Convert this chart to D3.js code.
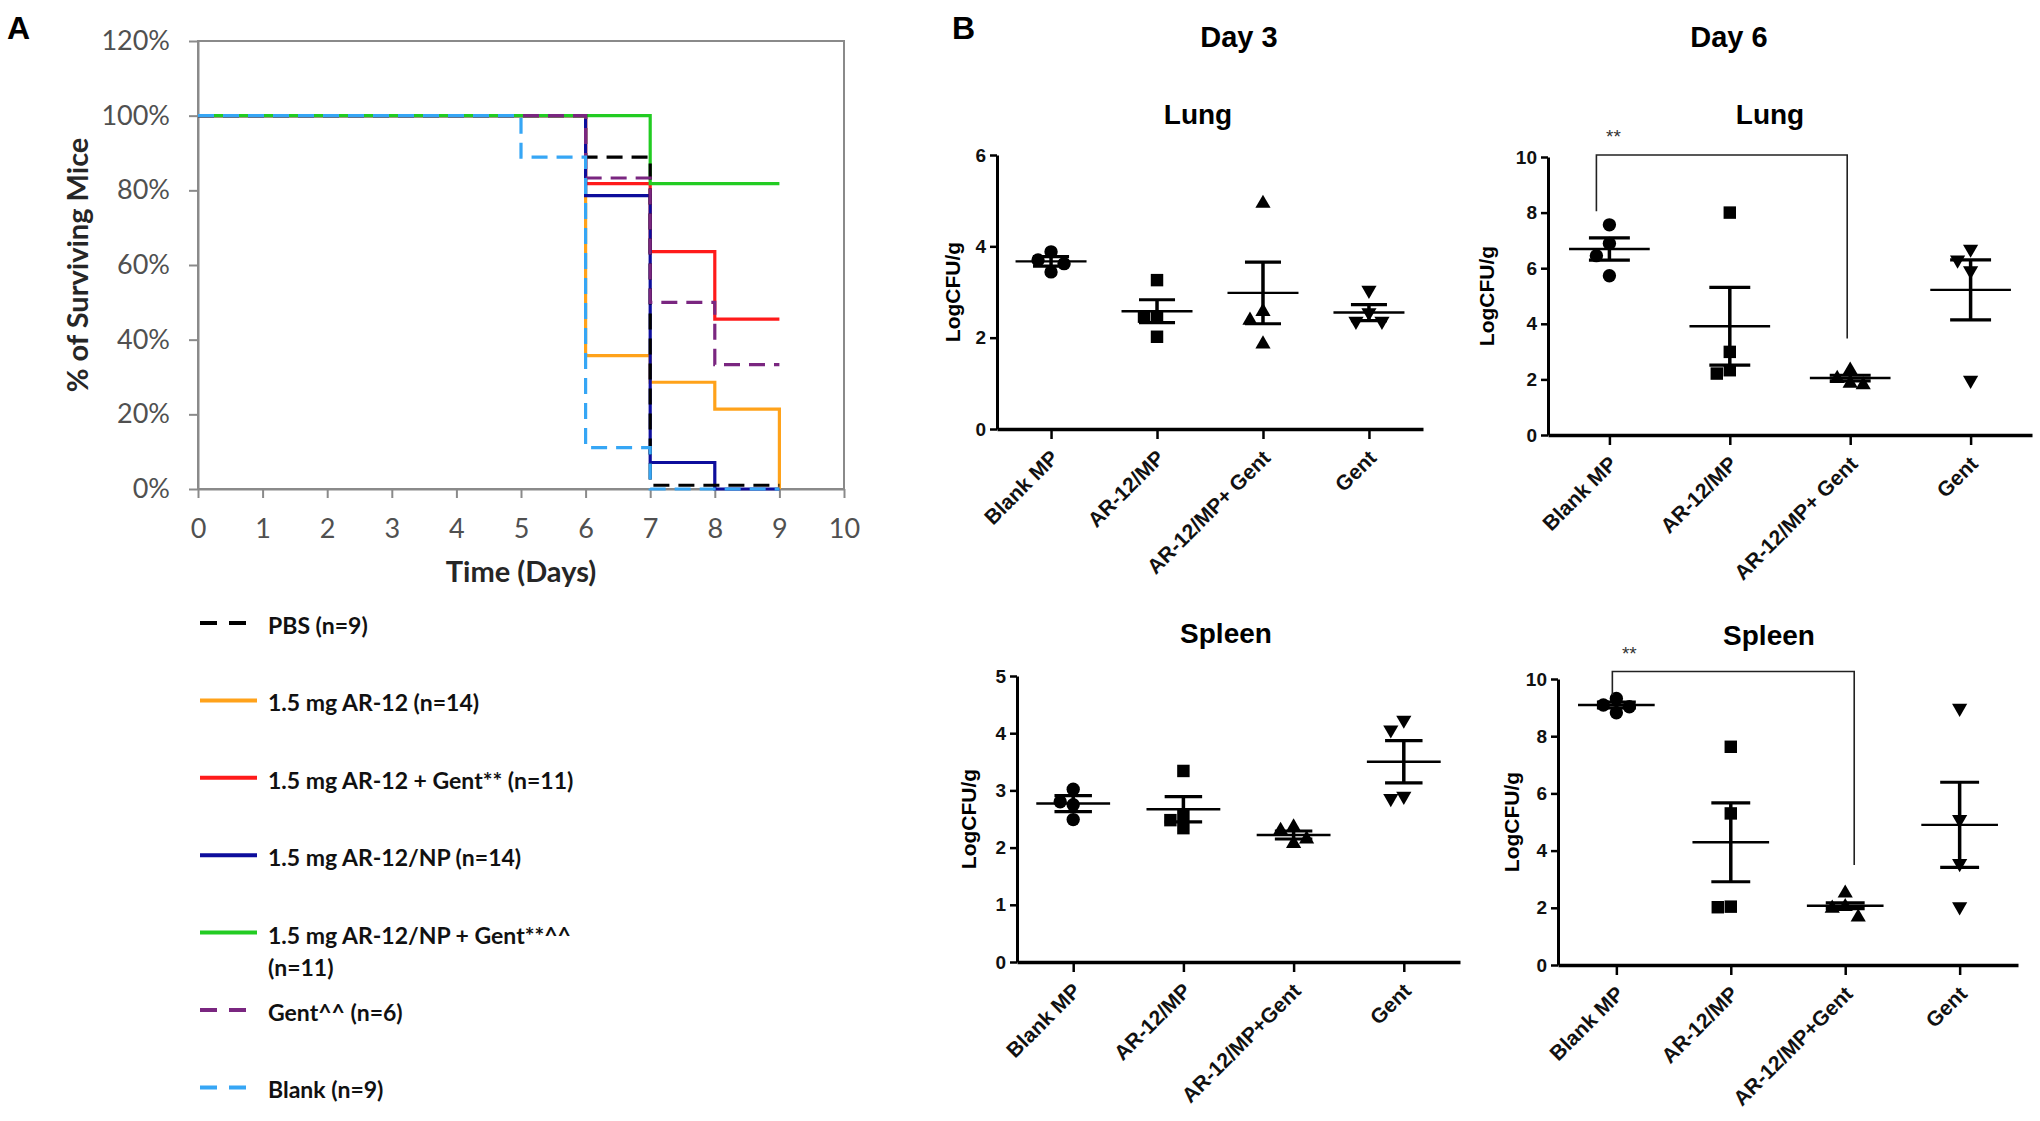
<!DOCTYPE html>
<html>
<head>
<meta charset="utf-8">
<script src="https://cdn.jsdelivr.net/npm/d3@7"></script>
<style>
  body { margin: 0; background: #fff; }
  svg { display: block; }
</style>
</head>
<body>
<svg id="chart" width="2040" height="1121"></svg>
<script>
// ---------- panel A : survival curves ----------
const dayTicks = [0, 1, 2, 3, 4, 5, 6, 7, 8, 9, 10];
const pctTicks = [0, 20, 40, 60, 80, 100, 120];

const pbsDays = [0, 6, 7, 9];
const pbsSurv = [100, 88.9, 1, 1];
const ar12Days = [0, 6, 7, 8, 9];
const ar12Surv = [100, 35.7, 28.6, 21.4, 0];
const ar12GentDays = [0, 6, 7, 8, 9];
const ar12GentSurv = [100, 81.8, 63.6, 45.5, 45.5];
const npDays = [0, 6, 7, 8, 9];
const npSurv = [100, 78.6, 7.1, 0, 0];
const npGentDays = [0, 7, 9];
const npGentSurv = [100, 81.8, 81.8];
const gentDays = [0, 6, 7, 8, 9];
const gentSurv = [100, 83.3, 50, 33.3, 33.3];
const blankDays = [0, 5, 6, 7, 9];
const blankSurv = [100, 88.9, 11.1, 0, 0];

const groupLabels = [
  ["PBS (n=9)"],
  ["1.5 mg AR-12 (n=14)"],
  ["1.5 mg AR-12 + Gent** (n=11)"],
  ["1.5 mg AR-12/NP (n=14)"],
  ["1.5 mg AR-12/NP + Gent**^^", "(n=11)"],
  ["Gent^^ (n=6)"],
  ["Blank (n=9)"]
];

// ---------- panel B : bacterial burden ----------
const lungCats = ["Blank MP", "AR-12/MP", "AR-12/MP+ Gent", "Gent"];
const spleenCats = ["Blank MP", "AR-12/MP", "AR-12/MP+Gent", "Gent"];

const lungDay3Ticks = [0, 2, 4, 6];
const lungDay3Points = [[3.88, 3.7, 3.62, 3.44], [3.26, 2.46, 2.46, 2.02], [4.94, 2.57, 2.38, 1.86], [3.04, 2.55, 2.36, 2.36]];
const lungDay3Mean = [3.67, 2.58, 2.98, 2.55];
const lungDay3Sem = [0.105, 0.25, 0.675, 0.175];

const lungDay6Ticks = [0, 2, 4, 6, 8, 10];
const lungDay6Points = [[7.56, 6.89, 6.45, 5.73], [8.0, 2.99, 2.33, 2.21], [2.33, 2.03, 1.86, 1.8], [6.69, 6.3, 5.91, 1.97]];
const lungDay6Mean = [6.69, 3.91, 2.05, 5.22];
const lungDay6Sem = [0.4, 1.4, 0.1, 1.08];
const lungDay6Bracket = [10.07, 8.05, 3.47];   // top, left foot, right foot

const spleenDay3Ticks = [0, 1, 2, 3, 4, 5];
const spleenDay3Points = [[3.02, 2.8, 2.75, 2.49], [3.34, 2.57, 2.48, 2.34], [2.36, 2.3, 2.15, 2.07], [4.23, 4.06, 2.9, 2.86]];
const spleenDay3Mean = [2.77, 2.67, 2.22, 3.5];
const spleenDay3Sem = [0.14, 0.22, 0.07, 0.37];

const spleenDay6Ticks = [0, 2, 4, 6, 8, 10];
const spleenDay6Points = [[9.32, 9.09, 9.03, 8.82], [7.63, 5.3, 2.04, 2.02], [2.51, 2.04, 1.98, 1.67], [8.98, 5.09, 3.55, 2.04]];
const spleenDay6Mean = [9.09, 4.29, 2.07, 4.9];
const spleenDay6Sem = [0.1, 1.38, 0.1, 1.49];
const spleenDay6Bracket = [10.26, 9.44, 3.5];

const svg = d3.select("#chart");
const sansA = "Lato, 'Open Sans', sans-serif";
const sansB = "'Liberation Sans', Arial, sans-serif";

// panel letters
svg.append("text").attr("x", 7).attr("y", 39).text("A")
  .attr("font-family", sansB).attr("font-weight", "bold").attr("font-size", 32);
svg.append("text").attr("x", 952).attr("y", 39).text("B")
  .attr("font-family", sansB).attr("font-weight", "bold").attr("font-size", 32);

// ===== panel A =====
const A = { left: 198, right: 844, top: 41, bottom: 489 };
const xA = d3.scaleLinear().domain([0, 10]).range([A.left, A.right]);
const yA = d3.scaleLinear().domain([0, 120]).range([A.bottom, A.top]);
const gA = svg.append("g");
const frame = "#8a8a8a";

gA.append("rect")
  .attr("x", A.left).attr("y", A.top)
  .attr("width", A.right - A.left).attr("height", A.bottom - A.top)
  .attr("fill", "none").attr("stroke", frame).attr("stroke-width", 2);

let styleA = g => {
  g.select(".domain").attr("stroke", frame).attr("stroke-width", 2);
  g.selectAll(".tick line").attr("stroke", frame).attr("stroke-width", 2);
  g.selectAll(".tick text").attr("font-family", sansA).attr("font-size", 27).attr("fill", "#505050");
};

gA.append("g").attr("transform", `translate(0,${A.bottom})`)
  .call(d3.axisBottom(xA).tickValues(dayTicks).tickSize(9).tickPadding(21).tickSizeOuter(0))
  .call(styleA);
gA.append("g").attr("transform", `translate(${A.left},0)`)
  .call(d3.axisLeft(yA).tickValues(pctTicks).tickSize(9).tickPadding(19).tickSizeOuter(0)
    .tickFormat(d => d + "%"))
  .call(styleA);

gA.append("text").attr("x", 521).attr("y", 572).attr("dy", "0.35em")
  .attr("text-anchor", "middle").attr("font-family", sansA).attr("font-weight", "bold")
  .attr("font-size", 29).attr("fill", "#262626").text("Time (Days)");
gA.append("text").attr("transform", "translate(78,265) rotate(-90)").attr("dy", "0.35em")
  .attr("text-anchor", "middle").attr("font-family", sansA).attr("font-weight", "bold")
  .attr("font-size", 29).attr("fill", "#262626").text("% of Surviving Mice");

const survival = [
  { days: pbsDays, surv: pbsSurv, color: "#000000", dash: true },
  { days: ar12Days, surv: ar12Surv, color: "#ffa21a", dash: false },
  { days: ar12GentDays, surv: ar12GentSurv, color: "#ff1a1a", dash: false },
  { days: npDays, surv: npSurv, color: "#0d0d9c", dash: false },
  { days: npGentDays, surv: npGentSurv, color: "#22cc22", dash: false },
  { days: gentDays, surv: gentSurv, color: "#7a2680", dash: true },
  { days: blankDays, surv: blankSurv, color: "#36a6f5", dash: true }
];

const stepLine = d3.line().x(d => xA(d[0])).y(d => yA(d[1])).curve(d3.curveStepAfter);
[1, 2, 3, 4, 0, 5, 6].forEach(i => {
  let s = survival[i];
  gA.append("path")
    .datum(d3.zip(s.days, s.surv))
    .attr("d", stepLine)
    .attr("fill", "none")
    .attr("stroke", s.color)
    .attr("stroke-width", 3.2)
    .attr("stroke-dasharray", s.dash ? "16,9" : null);
});

// legend
survival.forEach((s, i) => {
  let ly = 623 + i * 77.4;
  gA.append("line")
    .attr("x1", 200).attr("x2", s.dash ? 246 : 257)
    .attr("y1", ly).attr("y2", ly)
    .attr("stroke", s.color).attr("stroke-width", 4)
    .attr("stroke-dasharray", s.dash ? "17,12" : null);
  groupLabels[i].forEach((t, j) => {
    gA.append("text")
      .attr("x", 268).attr("y", ly + 3 + j * 32).attr("dy", "0.35em")
      .attr("font-family", sansA).attr("font-weight", "bold").attr("font-size", 23)
      .attr("fill", "#111").text(t);
  });
});

// ===== panel B =====
svg.append("text").attr("x", 1239).attr("y", 37).attr("dy", "0.35em").attr("text-anchor", "middle")
  .attr("font-family", sansB).attr("font-weight", "bold").attr("font-size", 29).text("Day 3");
svg.append("text").attr("x", 1729).attr("y", 37).attr("dy", "0.35em").attr("text-anchor", "middle")
  .attr("font-family", sansB).attr("font-weight", "bold").attr("font-size", 29).text("Day 6");

const panels = [
  { cats: lungCats, ticks: lungDay3Ticks, points: lungDay3Points, mean: lungDay3Mean, sem: lungDay3Sem,
    x0: 997, x1: 1423, yTop: 155, yBot: 429, title: "Lung", tx: 1198, ty: 114, labX: 953 },
  { cats: lungCats, ticks: lungDay6Ticks, points: lungDay6Points, mean: lungDay6Mean, sem: lungDay6Sem,
    x0: 1548, x1: 2032, yTop: 157, yBot: 435, title: "Lung", tx: 1770, ty: 114, labX: 1487,
    bracket: lungDay6Bracket, bdx: [-13, -3] },
  { cats: spleenCats, ticks: spleenDay3Ticks, points: spleenDay3Points, mean: spleenDay3Mean, sem: spleenDay3Sem,
    x0: 1017, x1: 1460, yTop: 676, yBot: 962, title: "Spleen", tx: 1226, ty: 633, labX: 969 },
  { cats: spleenCats, ticks: spleenDay6Ticks, points: spleenDay6Points, mean: spleenDay6Mean, sem: spleenDay6Sem,
    x0: 1558, x1: 2018, yTop: 679, yBot: 965, title: "Spleen", tx: 1769, ty: 635, labX: 1512,
    bracket: spleenDay6Bracket, bdx: [-4, 9] }
];

const shapes = [d3.symbolCircle, d3.symbolSquare, d3.symbolTriangle, d3.symbolTriangle];
const shapeSize = [140, 155, 100, 100];

// spread overlapping points sideways, Prism-like
function spread(vals, y, cx, s) {
  let placed = [];
  return vals.map(v => {
    let py = y(v);
    for (let k of [0, -1, 1, -2, 2]) {
      let px = cx + k * s;
      if (placed.every(p => Math.abs(p[0] - px) >= s || Math.abs(p[1] - py) >= s)) {
        placed.push([px, py]);
        return [px, py];
      }
    }
    placed.push([cx, py]);
    return [cx, py];
  });
}

panels.forEach(p => {
  let g = svg.append("g");
  let x = d3.scalePoint().domain(p.cats).range([p.x0, p.x1]).padding(0.51);
  let y = d3.scaleLinear().domain([0, d3.max(p.ticks)]).range([p.yBot, p.yTop]);
  let step = x.step();

  g.append("text").attr("x", p.tx).attr("y", p.ty).attr("dy", "0.35em").attr("text-anchor", "middle")
    .attr("font-family", sansB).attr("font-weight", "bold").attr("font-size", 28).text(p.title);

  g.append("g").attr("transform", `translate(${p.x0},0)`)
    .call(d3.axisLeft(y).tickValues(p.ticks).tickSize(7).tickPadding(4).tickSizeOuter(0)
      .tickFormat(d3.format("d")))
    .call(a => {
      a.select(".domain").attr("stroke", "#000").attr("stroke-width", 3);
      a.selectAll(".tick line").attr("stroke", "#000").attr("stroke-width", 2.5);
      a.selectAll(".tick text").attr("font-family", sansB).attr("font-weight", "bold")
        .attr("font-size", 19).attr("fill", "#111");
    });

  g.append("g").attr("transform", `translate(0,${p.yBot})`)
    .call(d3.axisBottom(x).tickSize(10).tickSizeOuter(0))
    .call(a => {
      a.select(".domain").attr("stroke", "#000").attr("stroke-width", 3.5);
      a.selectAll(".tick line").attr("stroke", "#000").attr("stroke-width", 2.5);
      a.selectAll(".tick text")
        .attr("x", 0).attr("y", 0).attr("dy", "0.35em")
        .attr("transform", "translate(3,25) rotate(-45)")
        .attr("text-anchor", "end")
        .attr("font-family", sansB).attr("font-weight", "bold")
        .attr("font-size", 21).attr("fill", "#111");
    });

  g.append("text").attr("transform", `translate(${p.labX},${(p.yTop + p.yBot) / 2}) rotate(-90)`)
    .attr("dy", "0.35em").attr("text-anchor", "middle")
    .attr("font-family", sansB).attr("font-weight", "bold").attr("font-size", 21).text("LogCFU/g");

  p.cats.forEach((c, i) => {
    let cx = x(c);
    let sym = d3.symbol().type(shapes[i]).size(shapeSize[i]);
    spread(p.points[i], y, cx, 13).forEach(([px, py]) => {
      g.append("path").attr("d", sym)
        .attr("transform", `translate(${px},${py})` + (i === 3 ? " rotate(180)" : ""))
        .attr("fill", "#000");
    });
    let m = p.mean[i], e = p.sem[i];
    g.append("line").attr("x1", cx - 0.335 * step).attr("x2", cx + 0.335 * step)
      .attr("y1", y(m)).attr("y2", y(m)).attr("stroke", "#000").attr("stroke-width", 2.4);
    g.append("line").attr("x1", cx).attr("x2", cx)
      .attr("y1", y(m - e)).attr("y2", y(m + e)).attr("stroke", "#000").attr("stroke-width", 3.5);
    [m - e, m + e].forEach(v => {
      g.append("line").attr("x1", cx - 0.17 * step).attr("x2", cx + 0.17 * step)
        .attr("y1", y(v)).attr("y2", y(v)).attr("stroke", "#000").attr("stroke-width", 3.2);
    });
  });

  if (p.bracket) {
    let [top, f1, f2] = p.bracket;
    let bx1 = x(p.cats[0]) + p.bdx[0], bx2 = x(p.cats[2]) + p.bdx[1];
    g.append("path")
      .attr("d", `M${bx1},${y(f1)}V${y(top)}H${bx2}V${y(f2)}`)
      .attr("fill", "none").attr("stroke", "#222").attr("stroke-width", 1.6);
    g.append("text").attr("x", bx1 + 17).attr("y", y(top) - 12)
      .attr("text-anchor", "middle").attr("font-family", sansB).attr("font-size", 19)
      .attr("fill", "#333").text("**");
  }
});
</script>
</body>
</html>
